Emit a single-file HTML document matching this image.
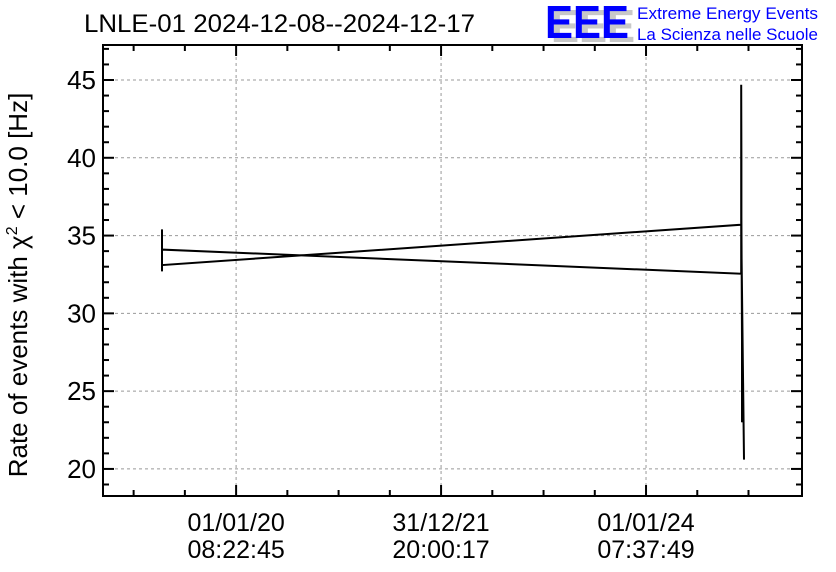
<!DOCTYPE html>
<html><head><meta charset="utf-8"><style>
html,body{margin:0;padding:0;background:#fff;}
svg{display:block;font-family:"Liberation Sans",sans-serif;}
</style></head><body>
<svg id="chart" width="836" height="572" viewBox="0 0 836 572" xmlns="http://www.w3.org/2000/svg">
<rect width="836" height="572" fill="#fff"/>
<text x="84" y="32" font-size="25" fill="#000" textLength="391" lengthAdjust="spacingAndGlyphs">LNLE-01 2024-12-08--2024-12-17</text>
<g>
<text x="551" y="42" font-size="46" font-weight="bold" fill="#c8c8c8" textLength="84" lengthAdjust="spacingAndGlyphs">EEE</text>
<text x="545" y="38" font-size="46" font-weight="bold" fill="#0000ff" textLength="84" lengthAdjust="spacingAndGlyphs">EEE</text>
<text x="637" y="19" font-size="17" fill="#0000ff" textLength="181" lengthAdjust="spacingAndGlyphs">Extreme Energy Events</text>
<text x="637" y="40" font-size="17" fill="#0000ff" textLength="181" lengthAdjust="spacingAndGlyphs">La Scienza nelle Scuole</text>
</g>
<g id="grid"></g>
<g id="axes"></g>
<path id="series" fill="none" stroke="#000" stroke-width="2"/>
<text transform="translate(27,285) rotate(-90)" text-anchor="middle" font-size="26" fill="#000">Rate of events with χ<tspan dy="-10" font-size="16">2</tspan><tspan dy="10"> &lt; 10.0 [Hz]</tspan></text>
</svg>
<script>
// data (x in days relative to 01/01/20 08:22:45)
const times = [-264,-264,-264,-264,1800,1800,1801,1801,1803,1803,1807,1810,1800,-264,-264];
const values = [33.5,35.4,32.7,34.1,32.55,44.7,40.0,36.2,28.3,23.0,25.5,20.6,35.7,33.1,33.6];
const yTicks = [20,25,30,35,40,45];
const xTickDays = [0,730.49,1460.97];
const xTickLabels1 = ["01/01/20","31/12/21","01/01/24"];
const xTickLabels2 = ["08:22:45","20:00:17","07:37:49"];

const L=103,R=802,T=45,B=496;
const xMin=-474.4, xMax=(R-236)/(205/730.49);
const yMin=18.26, yMax=47.25;
const sx=d=>L+(d-xMin)/(xMax-xMin)*(R-L);
const sy=v=>B-(v-yMin)/(yMax-yMin)*(B-T);
const NS="http://www.w3.org/2000/svg";
const grid=document.getElementById('grid'), axes=document.getElementById('axes');
function mk(tag,attrs,parent){const e=document.createElementNS(NS,tag);for(const k in attrs)e.setAttribute(k,attrs[k]);parent.appendChild(e);return e;}

yTicks.forEach(v=>{
  const y=sy(v);
  const g=mk('line',{x1:L,x2:R,y1:y,y2:y,stroke:'#999','stroke-dasharray':'3,3','stroke-width':1},grid);
  
  
  const t=mk('text',{x:L-7,y:y+9,'text-anchor':'end','font-size':26},axes);
  
  
  t.textContent=v;
});
for(let v=19;v<=47;v++){
  const y=sy(v);const len=(v%5===0)?11:6;
  mk('line',{x1:L,x2:L+len,y1:y,y2:y,stroke:'#000','stroke-width':2},axes);
  mk('line',{x1:R,x2:R-len,y1:y,y2:y,stroke:'#000','stroke-width':2},axes);
}
xTickDays.forEach((d,i)=>{
  const x=sx(d);
  const g=mk('line',{x1:x,x2:x,y1:T,y2:B,stroke:'#999','stroke-dasharray':'3,3','stroke-width':1},grid);
  
  
  const t1=mk('text',{x:x,y:531,'text-anchor':'middle','font-size':25},axes);
  
  
  t1.textContent=xTickLabels1[i];
  const t2=mk('text',{x:x,y:558,'text-anchor':'middle','font-size':25},axes);
  
  
  t2.textContent=xTickLabels2[i];
});
const step=730.49/4;
for(let k=-3;k<=10;k++){
  const d=k*step;const x=sx(d);if(x<L-1||x>R+1)continue;
  const len=(k%4===0)?11:6;
  mk('line',{x1:x,x2:x,y1:B,y2:B-len,stroke:'#000','stroke-width':2},axes);
  mk('line',{x1:x,x2:x,y1:T,y2:T+len,stroke:'#000','stroke-width':2},axes);
}
const frame=mk('rect',{x:L,y:T,width:R-L,height:B-T,fill:'none',stroke:'#000','stroke-width':2},axes);


document.getElementById('series').setAttribute('d',times.map((t,i)=>(i?'L':'M')+sx(t).toFixed(1)+','+sy(values[i]).toFixed(1)).join(''));
</script>
</body></html>
